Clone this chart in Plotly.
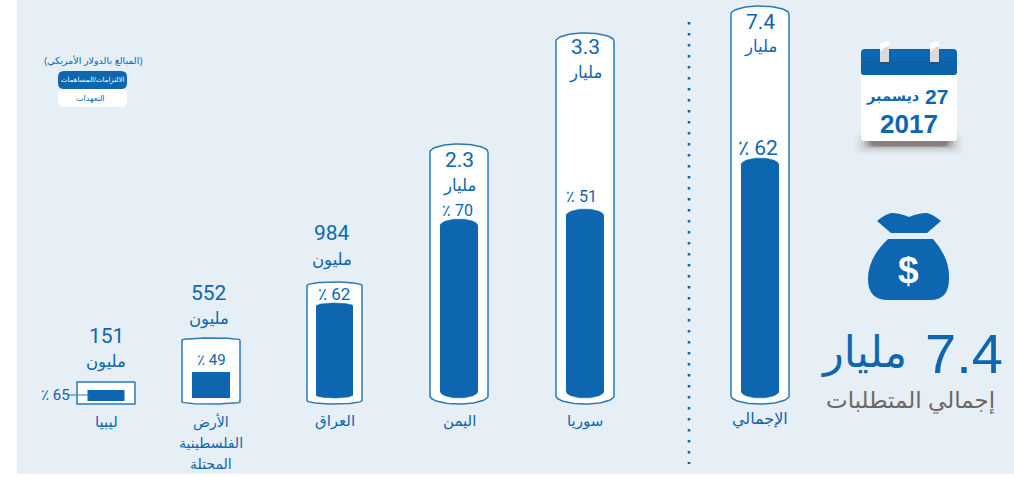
import numpy as np
import plotly.graph_objects as go

# ---------- data ----------
categories = ["ليبيا", "الأرض<br>الفلسطينية<br>المحتلة", "العراق", "اليمن", "سوريا", "الإجمالي"]
totals = ["151", "552", "984", "2.3", "3.3", "7.4"]
units = ["مليون", "مليون", "مليون", "مليار", "مليار", "مليار"]
percents = [65, 49, 62, 70, 51, 62]
# pictogram heights, in picture units above the common baseline
required_heights = [22, 66, 122, 260, 371, 398]
funded_tops = [14, 32, 101, 185, 195, 246]
funded_bases = [3, 6, 6, 6, 6, 6]

# ---------- layout of the pictogram ----------
W, H = 1014, 477
BASE_PX = 404
centers = [106, 211, 334.5, 459, 585, 760]
outer_w = [58, 58, 55, 58, 58, 58]
inner_w = [37, 38, 37, 38, 38, 38]
outer_cap = [0, 2, 3.5, 8, 8, 8]
inner_cap = [0, 0, 3, 7, 7, 7]

BLUE = "#0D66AF"
EDGE = "#2C78B8"
BG = "#E6EEF6"
GREY = "#6E6862"
AR = "'Liberation Sans', 'DejaVu Sans', sans-serif"
NARROW = "'Liberation Sans Narrow', Roboto, 'Liberation Sans', sans-serif"


def py(px):
    """Picture row -> axis value."""
    return BASE_PX - px


def arc(cx, w, yc, cap, start, stop):
    t = np.linspace(start, stop, 40)
    return cx + w / 2 * np.cos(t), yc + cap * np.sin(t)


fig = go.Figure()

# outer capsule bodies
fig.add_trace(go.Bar(
    x=centers, base=list(outer_cap),
    y=[h - 2 * c for h, c in zip(required_heights, outer_cap)],
    width=outer_w, marker=dict(color="white", line=dict(width=0)),
    hoverinfo="skip", showlegend=False))
# inner bars
fig.add_trace(go.Bar(
    x=centers, base=[b + c for b, c in zip(funded_bases, inner_cap)],
    y=[t - b - 2 * c for t, b, c in zip(funded_tops, funded_bases, inner_cap)],
    width=inner_w, marker=dict(color=BLUE, line=dict(width=0)),
    hoverinfo="skip", showlegend=False))

for cx, w, h, c, iw, it, ib, ic in zip(centers, outer_w, required_heights, outer_cap,
                                       inner_w, funded_tops, funded_bases, inner_cap):
    xt, yt = arc(cx, w, h - c, c, 0, np.pi)
    xb, yb = arc(cx, w, c, c, np.pi, 2 * np.pi)
    if c > 0:
        for xx, yy in [(xt, yt), (xb, yb)]:
            fig.add_trace(go.Scatter(x=xx, y=yy, mode="lines", fill="toself", fillcolor="white",
                                     line=dict(color="white", width=0.5), hoverinfo="skip", showlegend=False))
    fig.add_trace(go.Scatter(x=np.r_[xt, xb, xt[0]], y=np.r_[yt, yb, yt[0]], mode="lines",
                             line=dict(color=EDGE, width=1.5), hoverinfo="skip", showlegend=False))
    if ic > 0:
        for (a, b, yc) in [(0, np.pi, it - ic), (np.pi, 2 * np.pi, ib + ic)]:
            xc, yc2 = arc(cx, iw, yc, ic, a, b)
            fig.add_trace(go.Scatter(x=xc, y=yc2, mode="lines", fill="toself", fillcolor=BLUE,
                                     line=dict(color=BLUE, width=0.5), hoverinfo="skip", showlegend=False))

# Libya connector and dotted divider
fig.add_trace(go.Scatter(x=[68, 89], y=[py(395), py(395)], mode="lines",
                         line=dict(color="#4A8CC2", width=1.2), hoverinfo="skip", showlegend=False))
fig.add_trace(go.Scatter(x=[689, 689], y=[py(22), py(464)], mode="lines",
                         line=dict(color=BLUE, width=2.6, dash="2.6px,8.4px"),
                         hoverinfo="skip", showlegend=False))

shapes = [
    dict(type="rect", xref="paper", yref="paper", x0=17 / W, x1=1, y0=1 - 474 / H, y1=1,
         fillcolor=BG, line_width=0, layer="below"),
]


def add_path(path, color, layer="above"):
    shapes.append(dict(type="path", path=path, fillcolor=color, line_width=0, layer=layer))


def P(x, y):
    return f"{x},{py(y)}"


def rr(x0, y0, x1, y1, r):
    return (f"M{P(x0+r,y0)}L{P(x1-r,y0)}Q{P(x1,y0)} {P(x1,y0+r)}L{P(x1,y1-r)}Q{P(x1,y1)} {P(x1-r,y1)}"
            f"L{P(x0+r,y1)}Q{P(x0,y1)} {P(x0,y1-r)}L{P(x0,y0+r)}Q{P(x0,y0)} {P(x0+r,y0)}Z")


# legend pills
add_path(rr(58, 71, 127, 89, 6), BLUE)
add_path(rr(58, 89, 127, 107, 6), "white")

# calendar shadow
for inset, y1, op in [(-6, 154, 0.03), (-3, 152, 0.05), (0, 150, 0.08),
                      (3, 148, 0.14), (6, 147, 0.20), (9, 146, 0.28)]:
    shapes.append(dict(type="path", path=rr(861 + inset, 134, 957 - inset, y1, 6),
                       fillcolor=f"rgba(70,52,45,{op})", line_width=0))
# calendar body and header
add_path(rr(861, 60, 957, 141, 3), "white")
add_path(rr(861, 49, 957, 75, 4), BLUE)
add_path(rr(861, 61, 957, 75, 3), "#0C62A9")
for x0 in (880, 930):
    shapes.append(dict(type="rect", x0=x0 - 1, x1=x0 + 10, y0=py(60), y1=py(64), fillcolor="#2F4F6E", line_width=0))
    add_path(f"M{P(x0,44)}Q{P(x0+3,41)} {P(x0+9,41)}L{P(x0+9,62)}L{P(x0,62)}Z", "#D9DADB")
    add_path(f"M{P(x0,44)}Q{P(x0+3,41)} {P(x0+9,41)}L{P(x0+9,46)}Q{P(x0+4,47)} {P(x0,52)}Z", "#FFFFFF")

# money bag
add_path(f"M{P(877,221)}Q{P(884,215)} {P(891,213)}Q{P(900,213)} {P(909,217)}Q{P(918,213)} {P(927,213)}"
         f"Q{P(934,215)} {P(941,221)}L{P(927,233)}L{P(891,233)}Z", BLUE)
add_path(f"M{P(888,239)}L{P(933,239)}Q{P(950,258)} {P(949,279)}Q{P(949,300)} {P(930,300)}L{P(888,300)}"
         f"Q{P(868,300)} {P(868,279)}Q{P(868,258)} {P(888,239)}Z", BLUE)

ann = []


def T(x, y, text, size, color=BLUE, font=AR, xa="center", weight=None):
    f = dict(size=size, color=color, family=font)
    if weight:
        f["weight"] = weight
    ann.append(dict(x=x, y=py(y), text=text, showarrow=False, xanchor=xa, yanchor="middle",
                    align="center", font=f))


# value labels
val_pos = [(106, 336), (209, 293), (332, 233), (459, 160), (585, 47), (760, 22)]
unit_pos = [(106, 362), (209, 319), (332, 260), (459, 186), (585, 73), (760, 47)]
pct_pos = [(55, 395), (211, 360), (334, 294), (457, 210), (581, 196), (758, 148)]
pct_size = [15, 15, 17, 16, 16, 21]
for v, vp in zip(totals, val_pos):
    T(vp[0], vp[1], v, 21, font=NARROW)
for u, up in zip(units, unit_pos):
    T(up[0], up[1], u, 16.5)
for p, pp, s in zip(percents, pct_pos, pct_size):
    T(pp[0], pp[1], f"٪ {p}", s, font=NARROW)

# category labels
cat_y = [421, 422, 421, 421, 421, 419]
cat_size = [15, 14, 15, 15, 15, 16]
for c, cx, y, s in zip(categories, centers, cat_y, cat_size):
    for i, line in enumerate(c.split("<br>")):
        T(cx, y + 21 * i, line, s)

# legend and side panel texts
T(93, 60, "(المبالغ بالدولار الأمريكي)", 9.5)
T(92, 80, "الالتزامات/المساهمات", 7, color="white")
T(90, 98, "التعهدات", 8)
T(950, 96, "<b>27</b>", 21, xa="right")
T(921, 96, "<b>ديسمبر</b>", 14.5, xa="right")
T(909, 124, "<b>2017</b>", 26)
T(908, 270, "<b>$</b>", 37, color="white")
T(1005, 353, "7.4", 56, xa="right")
T(909, 352, "مليار", 43, xa="right")
T(910, 400, "إجمالي المتطلبات", 23, color=GREY)

fig.update_layout(
    width=W, height=H, margin=dict(l=0, r=0, t=0, b=0), autosize=False,
    paper_bgcolor="white", plot_bgcolor="rgba(0,0,0,0)", barmode="overlay",
    xaxis=dict(range=[0, W], visible=False, fixedrange=True),
    yaxis=dict(range=[py(H), py(0)], visible=False, fixedrange=True),
    shapes=shapes, annotations=ann, showlegend=False,
)
fig.write_html("out.html", config=dict(displayModeBar=False),
               post_script="document.body.style.margin='0';")
